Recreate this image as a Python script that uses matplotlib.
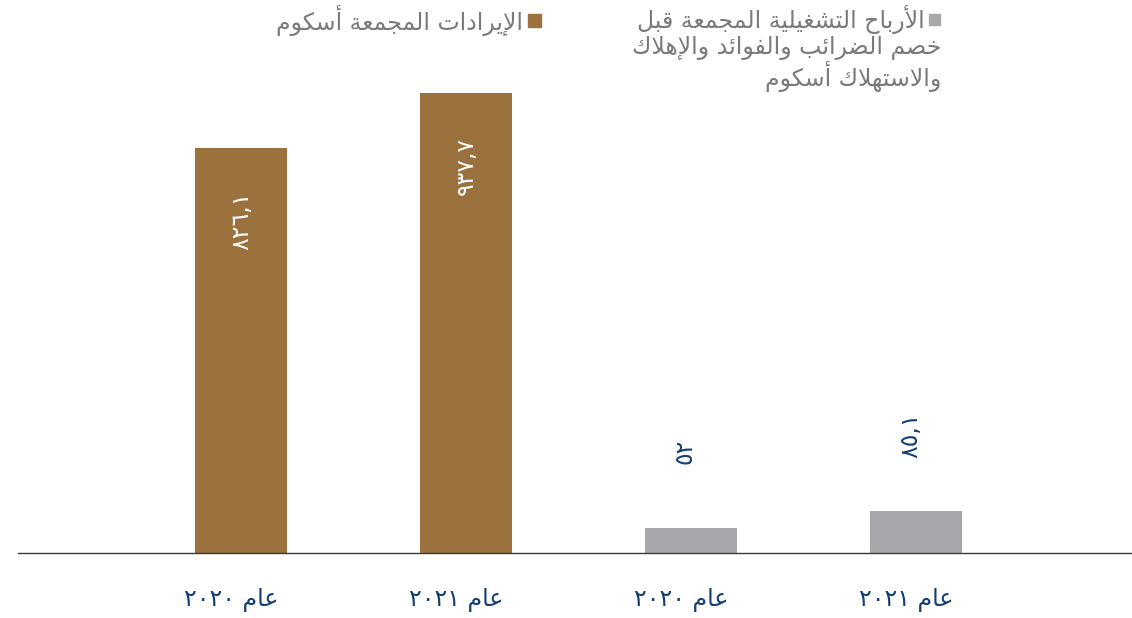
import re
import matplotlib
matplotlib.use("Agg")
import matplotlib.pyplot as plt
from matplotlib.patches import Rectangle

# ---------------- data ----------------
categories = ["عام ٢٠٢٠", "عام ٢٠٢١", "عام ٢٠٢٠", "عام ٢٠٢١"]
revenue = [826.1, 937.7]          # الإيرادات المجمعة أسكوم
ebitda = [52, 85.1]               # الأرباح التشغيلية المجمعة ...
legend_revenue = "الإيرادات المجمعة أسكوم"
legend_ebitda = ["الأرباح التشغيلية المجمعة قبل",
                 "خصم الضرائب والفوائد والإهلاك",
                 "والاستهلاك أسكوم"]

BROWN = "#9B713E"
GREY = "#A7A8AB"
NAVY = "#123E73"
LEGEND_TXT = "#7A7A7A"

# ---------------- minimal Arabic shaping + bidi ----------------
BASE = "ءآأؤإئابةتثجحخدذرزسشصضطظعغفقكلمنهوىي"
NFORMS = [1, 2, 2, 2, 2, 4, 2, 4, 2, 4, 4, 4, 4, 4, 2, 2, 2, 2, 4, 4,
          4, 4, 4, 4, 4, 4, 4, 4, 4, 4, 4, 4, 4, 2, 2, 4]
FORMS = {}
_start = 0xFE80
for _c, _n in zip(BASE, NFORMS):
    FORMS[_c] = (_start, _n)
    _start += _n
LAMALEF = {"آ": 0xFEF5, "أ": 0xFEF7, "إ": 0xFEF9, "ا": 0xFEFB}


def _joins_next(c):
    return c in FORMS and FORMS[c][1] == 4


def _joinable(c):
    return c in FORMS and FORMS[c][1] >= 2


def shape(s):
    out = []
    n = len(s)
    i = 0
    while i < n:
        c = s[i]
        prev = s[i - 1] if i > 0 else None
        conn_prev = prev is not None and _joins_next(prev) and _joinable(c)
        if c == "ل" and i + 1 < n and s[i + 1] in LAMALEF:
            out.append(chr(LAMALEF[s[i + 1]] + (1 if conn_prev else 0)))
            i += 2
            continue
        if c not in FORMS:
            out.append(c)
            i += 1
            continue
        start, nf = FORMS[c]
        nxt = s[i + 1] if i + 1 < n else None
        conn_next = nf == 4 and nxt is not None and _joinable(nxt)
        if nf == 1:
            g = start
        elif nf == 2:
            g = start + (1 if conn_prev else 0)
        else:
            if conn_prev and conn_next:
                g = start + 3
            elif conn_prev:
                g = start + 1
            elif conn_next:
                g = start + 2
            else:
                g = start
        out.append(chr(g))
        i += 1
    return "".join(out)


def ar(s):
    shaped = shape(s)
    tokens = re.findall(r"[0-9\u0660-\u0669]+(?:[.,\u066B][0-9\u0660-\u0669]+)*|.", shaped, re.S)
    return "".join(reversed(tokens))


AR_DIGITS = str.maketrans("0123456789", "٠١٢٣٤٥٦٧٨٩")


def fmt(v):
    return f"{v:g}".replace(".", ",").translate(AR_DIGITS)


plt.rcParams["font.family"] = ["DejaVu Sans"]

# ---------------- figure ----------------
W, H = 1132, 618
fig = plt.figure(figsize=(W / 100, H / 100), dpi=100)
ax = fig.add_axes([18 / W, (H - 553) / H, (W - 18) / W, 553 / H])

xpos = [0, 1, 2, 3]
values = revenue + ebitda
colors = [BROWN] * len(revenue) + [GREY] * len(ebitda)
bars = ax.bar(xpos, values, width=0.413, color=colors, zorder=2)

ax.set_xlim(-0.991, 3.96)
ax.set_ylim(0, 1128)
for s in ["top", "right", "left"]:
    ax.spines[s].set_visible(False)
ax.spines["bottom"].set_color("#3a3a3a")
ax.spines["bottom"].set_linewidth(1.0)
ax.set_yticks([])
ax.set_xticks([])

# value labels
for i, v in enumerate(revenue):
    ax.annotate(fmt(v), xy=(xpos[i], v), xytext=(0, -73), textcoords="offset pixels",
                rotation=90, ha="center", va="center", color="white", fontsize=17)
for j, v in enumerate(ebitda):
    i = len(revenue) + j
    ax.annotate(fmt(v), xy=(xpos[i], v), xytext=(-6, 76), textcoords="offset pixels",
                rotation=90, ha="center", va="center", color=NAVY, fontsize=17)

# category labels
for i, lab in enumerate(categories):
    ax.annotate(ar(lab), xy=(xpos[i], 0), xycoords=("data", "axes fraction"),
                xytext=(-10, -47), textcoords="offset pixels",
                ha="center", va="center", color=NAVY, fontsize=17)

# legend (overlay in pixel space)
ov = fig.add_axes([0, 0, 1, 1], facecolor="none")
ov.set_xlim(0, W)
ov.set_ylim(H, 0)
ov.axis("off")
ov.add_patch(Rectangle((528, 14), 13, 13, color=BROWN))
ov.text(523, 20, ar(legend_revenue), ha="right", va="center", color=LEGEND_TXT, fontsize=17)
ov.add_patch(Rectangle((929, 14), 11, 11, color=GREY))
line_y = [20, 48, 77]
line_x = [925, 941, 941]
for txt, y, x in zip(legend_ebitda, line_y, line_x):
    ov.text(x, y, ar(txt), ha="right", va="center", color=LEGEND_TXT, fontsize=17)

fig.savefig("out.png", dpi=100)
